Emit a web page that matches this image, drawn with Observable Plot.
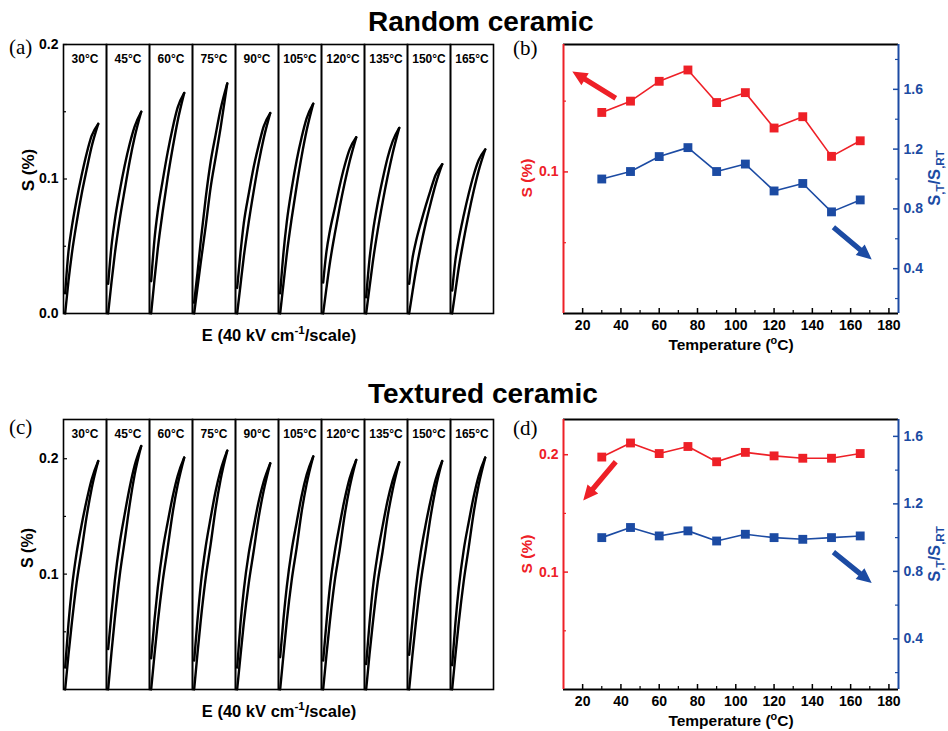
<!DOCTYPE html>
<html><head><meta charset="utf-8">
<script src="https://cdn.jsdelivr.net/npm/d3@7"></script>
<script src="https://cdn.jsdelivr.net/npm/@observablehq/plot@0.6"></script>
<style>
body{margin:0;background:#fff;}
#fig{position:relative;width:948px;height:731px;overflow:hidden;font-family:"Liberation Sans",Arial,sans-serif;background:#fff;}
#fig svg{position:absolute;}
.t{position:absolute;font-weight:bold;white-space:nowrap;line-height:1;}
.rot{transform:translate(-50%,-50%) rotate(-90deg);}
.ctr{transform:translate(-50%,-50%);}
.pl{position:absolute;font-family:"Liberation Serif","Times New Roman",serif;font-size:21px;line-height:1;}
sub,sup{line-height:0;font-size:70%;}
</style></head><body><div id="fig"></div>
<script>
// ---------- data ----------
const temps = ["30°C","45°C","60°C","75°C","90°C","105°C","120°C","135°C","150°C","165°C"];
const tempValues = [30,45,60,75,90,105,120,135,150,165];
const fieldGrid = [0,0.1,0.2,0.35,0.5,0.65,0.8,1.0]; // E, in units of the per-panel field scale

const randomUp = [
[0,0.024,0.044,0.068,0.089,0.107,0.124,0.141],
[0,0.023,0.044,0.070,0.092,0.113,0.131,0.150],
[0,0.025,0.048,0.076,0.101,0.123,0.143,0.164],
[0,0.019,0.038,0.065,0.094,0.116,0.138,0.171],
[0,0.021,0.042,0.068,0.091,0.112,0.130,0.149],
[0,0.022,0.044,0.071,0.095,0.117,0.136,0.156],
[0,0.019,0.037,0.059,0.079,0.097,0.113,0.131],
[0,0.019,0.038,0.062,0.083,0.102,0.119,0.138],
[0,0.016,0.031,0.050,0.067,0.082,0.096,0.111],
[0,0.017,0.034,0.055,0.074,0.091,0.106,0.122]];
const randomDown = [
[0.015,0.046,0.064,0.085,0.103,0.119,0.132,0.141],
[0.022,0.050,0.069,0.091,0.110,0.126,0.139,0.150],
[0.024,0.055,0.076,0.099,0.120,0.138,0.153,0.164],
[0.008,0.030,0.054,0.086,0.113,0.133,0.152,0.171],
[0.019,0.045,0.067,0.089,0.109,0.125,0.139,0.149],
[0.015,0.045,0.068,0.093,0.114,0.131,0.145,0.156],
[0.023,0.046,0.061,0.078,0.095,0.110,0.122,0.131],
[0.012,0.040,0.060,0.082,0.100,0.116,0.128,0.138],
[0.022,0.041,0.053,0.067,0.080,0.092,0.103,0.111],
[0.017,0.040,0.055,0.073,0.089,0.103,0.114,0.122]];
const texturedUp = [
[0,0.030,0.057,0.093,0.121,0.150,0.174,0.198],
[0,0.032,0.061,0.099,0.129,0.160,0.186,0.211],
[0,0.030,0.058,0.094,0.123,0.153,0.177,0.201],
[0,0.031,0.060,0.097,0.126,0.157,0.182,0.207],
[0,0.029,0.057,0.092,0.120,0.149,0.172,0.196],
[0,0.030,0.059,0.095,0.123,0.154,0.178,0.202],
[0,0.030,0.058,0.094,0.121,0.151,0.175,0.199],
[0,0.030,0.057,0.093,0.120,0.150,0.173,0.197],
[0,0.030,0.057,0.093,0.121,0.150,0.174,0.198],
[0,0.030,0.058,0.094,0.123,0.153,0.177,0.201]];
const texturedDown = [
[0.019,0.057,0.087,0.119,0.143,0.164,0.182,0.198],
[0.035,0.066,0.094,0.127,0.152,0.175,0.194,0.211],
[0.027,0.060,0.088,0.121,0.145,0.167,0.185,0.201],
[0.025,0.060,0.091,0.124,0.149,0.172,0.190,0.207],
[0.019,0.057,0.086,0.118,0.141,0.163,0.180,0.196],
[0.028,0.061,0.089,0.121,0.145,0.168,0.186,0.202],
[0.025,0.058,0.088,0.119,0.143,0.165,0.183,0.199],
[0.022,0.057,0.087,0.118,0.142,0.164,0.181,0.197],
[0.030,0.060,0.087,0.119,0.143,0.164,0.182,0.198],
[0.021,0.058,0.088,0.121,0.145,0.167,0.185,0.201]];

const randomStrain = [0.142,0.150,0.164,0.172,0.149,0.156,0.131,0.139,0.111,0.122];
const randomRatio  = [1.00,1.05,1.15,1.21,1.05,1.10,0.92,0.97,0.78,0.86];
const texturedStrain = [0.198,0.210,0.201,0.207,0.194,0.202,0.199,0.197,0.197,0.201];
const texturedRatio  = [1.00,1.06,1.01,1.04,0.98,1.02,1.00,0.99,1.00,1.01];

// annotation arrows (data coordinates)
const arrowsB_left  = [{x1:37.3,y1:0.152,x2:14.6,y2:0.171}];
const arrowsB_right = [{x1:151,y1:0.677,x2:171,y2:0.462}];
const arrowsD_left  = [{x1:37.3,y1:0.194,x2:20.3,y2:0.161}];
const arrowsD_right = [{x1:151,y1:0.914,x2:171,y2:0.731}];

const tempTicks = [20,40,60,80,100,120,140,160,180];
const tempMinor = [30,50,70,90,110,130,150,170];

// ---------- helpers ----------
const RED = "#ee2027", BLUE = "#1c4ba3";
const FONT = "Liberation Sans, Arial, sans-serif";
const fig = document.getElementById("fig");
function place(svg, left, top){ svg.style.left = left+"px"; svg.style.top = top+"px"; fig.appendChild(svg); }
function label(html, x, y, size, cls, color){
  const d = document.createElement("div");
  d.className = "t " + cls; d.innerHTML = html;
  d.style.left = x+"px"; d.style.top = y+"px"; d.style.fontSize = size+"px";
  if (color) d.style.color = color;
  fig.appendChild(d);
}
function raw(html, x, y, cls){
  const d = document.createElement("div");
  d.className = cls; d.innerHTML = html; d.style.left = x+"px"; d.style.top = y+"px";
  fig.appendChild(d);
}
function loopRows(up, down){
  const rows = [];
  temps.forEach((T,i)=>{
    fieldGrid.forEach((E,j)=>rows.push({T, branch:"up", E, S: up[i][j]}));
    fieldGrid.forEach((E,j)=>rows.push({T, branch:"down", E, S: down[i][j]}));
  });
  return rows;
}

// filled block arrow drawn as a custom vector shape
const blockArrow = {
  draw(context, l) {
    const w = 2.6, h = Math.min(15, l * 0.4), hw = 7;
    context.moveTo(-w, 0);
    context.lineTo(-w, -(l - h));
    context.lineTo(-hw, -(l - h));
    context.lineTo(0, -l);
    context.lineTo(hw, -(l - h));
    context.lineTo(w, -(l - h));
    context.lineTo(w, 0);
    context.closePath();
  }
};
const W = 448, ML = 63, MR = 50, MT = 44;
function arrowMarks(arrows, yDomain, height, mb, color){
  const xs = Plot.scale({x: {domain: [10, 185], range: [ML, W - MR]}});
  const ys = Plot.scale({y: {domain: yDomain, range: [height - mb, MT]}});
  return arrows.map(a => {
    const dx = xs.apply(a.x2) - xs.apply(a.x1), dy = ys.apply(a.y2) - ys.apply(a.y1);
    const L = Math.hypot(dx, dy), R = Math.atan2(dx, -dy) * 180 / Math.PI;
    return Plot.vector([a], {x: "x1", y: "y1", length: L, rotate: R, anchor: "start", shape: blockArrow, fill: color, stroke: "none"});
  });
}

function loopsPlot(rows, yDomain, yLabels, yMinor, height, mb){
  const frameW = 430/temps.length;
  return Plot.plot({
    width: 500, height, marginLeft: 63, marginRight: 7, marginTop: 44, marginBottom: mb,
    style: {fontFamily: FONT, background: "transparent", overflow: "visible"},
    fx: {domain: temps, padding: 0, axis: null},
    x: {domain: [-0.05, 1.25], axis: null},
    y: {domain: yDomain, axis: null},
    marks: [
      Plot.line(rows, {fx: "T", x: "E", y: "S", z: "branch", stroke: "black", strokeWidth: 2.4, curve: "monotone-x"}),
      Plot.frame({stroke: "black", strokeWidth: 1.6}),
      Plot.text(temps, {fx: d=>d, text: d=>d, frameAnchor: "top", dy: 10, fontWeight: "bold", fontSize: 12, fill: "black"}),
      Plot.axisY({ticks: yLabels, tickFormat: d => d.toFixed(1), tickSize: 0, tickPadding: 5, fontSize: 14, fontWeight: "bold", label: null}),
      Plot.tickY(yLabels.map(v=>({t: temps[0], v})), {fx: "t", y: "v", insetRight: frameW-4, strokeWidth: 1.2}),
      Plot.tickY(yMinor.map(v=>({t: temps[0], v})), {fx: "t", y: "v", insetRight: frameW-3, strokeWidth: 1.2})
    ]
  });
}

function leftPlot(strain, yDomain, yLabels, yMinor, arrows, height, mb){
  const fh = height - MT - mb, fw = W - ML - MR;
  return Plot.plot({
    width: W, height, marginLeft: ML, marginRight: MR, marginTop: MT, marginBottom: mb,
    style: {fontFamily: FONT, background: "transparent", overflow: "visible"},
    x: {domain: [10, 185], axis: null},
    y: {domain: yDomain, axis: null},
    marks: [
      Plot.ruleY([yDomain[1]], {stroke: "black", strokeWidth: 1.8}),
      Plot.ruleY([yDomain[0]], {stroke: "black", strokeWidth: 2}),
      Plot.ruleX([10], {stroke: RED, strokeWidth: 2}),
      Plot.tickX(tempTicks, {x: d=>d, insetTop: fh-5, strokeWidth: 1.5}),
      Plot.tickX(tempMinor, {x: d=>d, insetTop: fh-3, strokeWidth: 1.2}),
      Plot.axisX({ticks: tempTicks, tickSize: 0, tickPadding: 7, fontSize: 14, fontWeight: "bold", label: null}),
      Plot.axisY({ticks: yLabels, tickFormat: d => d.toFixed(1), tickSize: 0, tickPadding: 5, fontSize: 14, fontWeight: "bold", color: RED, label: null}),
      Plot.tickY(yLabels, {y: d=>d, insetRight: fw-5, stroke: RED, strokeWidth: 1.5}),
      Plot.tickY(yMinor, {y: d=>d, insetRight: fw-3, stroke: RED, strokeWidth: 1.2}),
      Plot.line(tempValues, {x: d=>d, y: (d,i)=>strain[i], stroke: RED, strokeWidth: 1.6}),
      Plot.dot(tempValues, {x: d=>d, y: (d,i)=>strain[i], symbol: "square", r: 5, fill: RED}),
      ...arrowMarks(arrows, yDomain, height, mb, RED)
    ]
  });
}

function rightPlot(ratio, yDomain, yLabels, yMinor, arrows, height, mb){
  const fw = W - ML - MR;
  return Plot.plot({
    width: W, height, marginLeft: ML, marginRight: MR, marginTop: MT, marginBottom: mb,
    style: {fontFamily: FONT, background: "transparent", overflow: "visible"},
    x: {domain: [10, 185], axis: null},
    y: {domain: yDomain, axis: null},
    marks: [
      Plot.ruleX([185], {stroke: BLUE, strokeWidth: 2}),
      Plot.axisY({anchor: "right", ticks: yLabels, tickFormat: d => d.toFixed(1), tickSize: 0, tickPadding: 5, fontSize: 14, fontWeight: "bold", color: BLUE, label: null}),
      Plot.tickY(yLabels, {y: d=>d, insetLeft: fw-5, stroke: BLUE, strokeWidth: 1.5}),
      Plot.tickY(yMinor, {y: d=>d, insetLeft: fw-3, stroke: BLUE, strokeWidth: 1.2}),
      Plot.line(tempValues, {x: d=>d, y: (d,i)=>ratio[i], stroke: BLUE, strokeWidth: 1.6}),
      Plot.dot(tempValues, {x: d=>d, y: (d,i)=>ratio[i], symbol: "square", r: 5, fill: BLUE}),
      ...arrowMarks(arrows, yDomain, height, mb, BLUE)
    ]
  });
}

// ---------- panels ----------
place(loopsPlot(loopRows(randomUp, randomDown), [0, 0.2], [0, 0.1, 0.2], [0.05, 0.15], 360, 47), 0, 0);
place(loopsPlot(loopRows(texturedUp, texturedDown), [0, 0.234], [0.1, 0.2], [0.05, 0.15], 356, 42), 0, 375);

place(leftPlot(randomStrain, [0, 0.19], [0.1], [0.05, 0.15], arrowsB_left, 360, 47), 500, 0);
place(rightPlot(randomRatio, [0.1, 1.9], [0.4, 0.8, 1.2, 1.6], [0.2, 0.6, 1.0, 1.4, 1.8], arrowsB_right, 360, 47), 500, 0);
place(leftPlot(texturedStrain, [0, 0.23], [0.1, 0.2], [0.05, 0.15], arrowsD_left, 356, 42), 500, 375);
place(rightPlot(texturedRatio, [0.1, 1.7], [0.4, 0.8, 1.2, 1.6], [0.2, 0.6, 1.0, 1.4], arrowsD_right, 356, 42), 500, 375);

// ---------- titles & labels ----------
label("Random ceramic", 368, 8, 28, "");
label("Textured ceramic", 368, 380, 28, "");
raw("(a)", 9, 37, "pl"); raw("(b)", 513, 38, "pl");
raw("(c)", 9, 417, "pl"); raw("(d)", 513, 418, "pl");

label("E (40 kV cm<sup>-1</sup>/scale)", 279, 335, 16.5, "ctr");
label("E (40 kV cm<sup>-1</sup>/scale)", 279, 711, 16.5, "ctr");
label("S (%)", 28, 170, 17, "rot");
label("S (%)", 28, 548, 16, "rot");

label("Temperature (<sup>o</sup>C)", 731, 345, 15.5, "ctr");
label("Temperature (<sup>o</sup>C)", 731, 721, 15.5, "ctr");
label("S (%)", 527, 178, 15.5, "rot", RED);
label("S (%)", 527, 554, 15.5, "rot", RED);
label("S<sub>,T</sub>/S<sub>,RT</sub>", 934, 178, 16.5, "rot", BLUE);
label("S<sub>,T</sub>/S<sub>,RT</sub>", 934, 554, 16.5, "rot", BLUE);
</script></body></html>
